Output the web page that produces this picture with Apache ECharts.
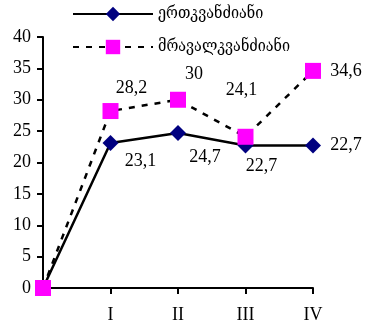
<!DOCTYPE html>
<html><head><meta charset="utf-8">
<script src="https://cdn.jsdelivr.net/npm/echarts@6/dist/echarts.min.js"></script>
<style>html,body{margin:0;padding:0;background:#fff}#c{width:366px;height:326px}</style>
</head><body><div id="c"></div>
<script>
const categories = ['', 'I', 'II', 'III', 'IV'];
const seriesNames = ['ერთკვანძიანი', 'მრავალკვანძიანი'];
const singleValues = [0, 23.1, 24.7, 22.7, 22.7];
const multiValues = [0, 28.2, 30, 24.1, 34.6];
const yTicks = [0, 5, 10, 15, 20, 25, 30, 35, 40];

const singleOffsets = [null, [30, 18], [27, 24], [16, 21], [33, 0]];
const multiOffsets = [null, [21, -23], [16, -25], [-4, -47], [33, 0]];

function build(values, offsets) {
  return values.map((v, i) => {
    if (!offsets[i]) return { value: v, label: { show: false } };
    return { value: v, label: { show: true, position: 'inside', offset: offsets[i] } };
  });
}
const fmt = p => String(p.value).replace('.', ',');
const labelStyle = { fontFamily: 'Liberation Serif', fontSize: 18, color: '#000', formatter: fmt };

const chart = echarts.init(document.getElementById('c'), null, { renderer: 'canvas' });
chart.setOption({
  animation: false,
  backgroundColor: '#fff',
  grid: { left: 43, right: 53, top: 37, bottom: 38, containLabel: false },
  legend: {
    orient: 'vertical', left: 67, top: 1, itemGap: 17, itemWidth: 80, itemHeight: 18,
    textStyle: { fontFamily: 'DejaVu Serif Condensed, DejaVu Serif', fontSize: 16, color: '#000' },
    data: seriesNames
  },
  xAxis: {
    type: 'category', data: categories, boundaryGap: false,
    axisLine: { lineStyle: { color: '#000', width: 2 } },
    axisTick: { show: true, length: 6, lineStyle: { color: '#000', width: 2 } },
    axisLabel: { fontFamily: 'Liberation Serif', fontSize: 18, color: '#000', margin: 18 },
    splitLine: { show: false }
  },
  yAxis: {
    type: 'value', min: yTicks[0], max: yTicks[yTicks.length - 1], interval: 5,
    axisLine: { show: true, lineStyle: { color: '#000', width: 2 } },
    axisTick: { show: true, length: 6, lineStyle: { color: '#000', width: 2 } },
    axisLabel: { fontFamily: 'Liberation Serif', fontSize: 18, color: '#000', margin: 12 },
    splitLine: { show: false }
  },
  series: [
    {
      name: seriesNames[0], type: 'line', data: build(singleValues, singleOffsets),
      symbol: 'diamond', symbolSize: 16,
      itemStyle: { color: '#000080' },
      lineStyle: { color: '#000', width: 2.5 },
      label: labelStyle, z: 2
    },
    {
      name: seriesNames[1], type: 'line', data: build(multiValues, multiOffsets),
      symbol: 'rect', symbolSize: 16,
      itemStyle: { color: '#ff00ff' },
      lineStyle: { color: '#000', width: 2.5, type: [6, 7] },
      label: labelStyle, z: 3
    }
  ]
});
</script></body></html>
